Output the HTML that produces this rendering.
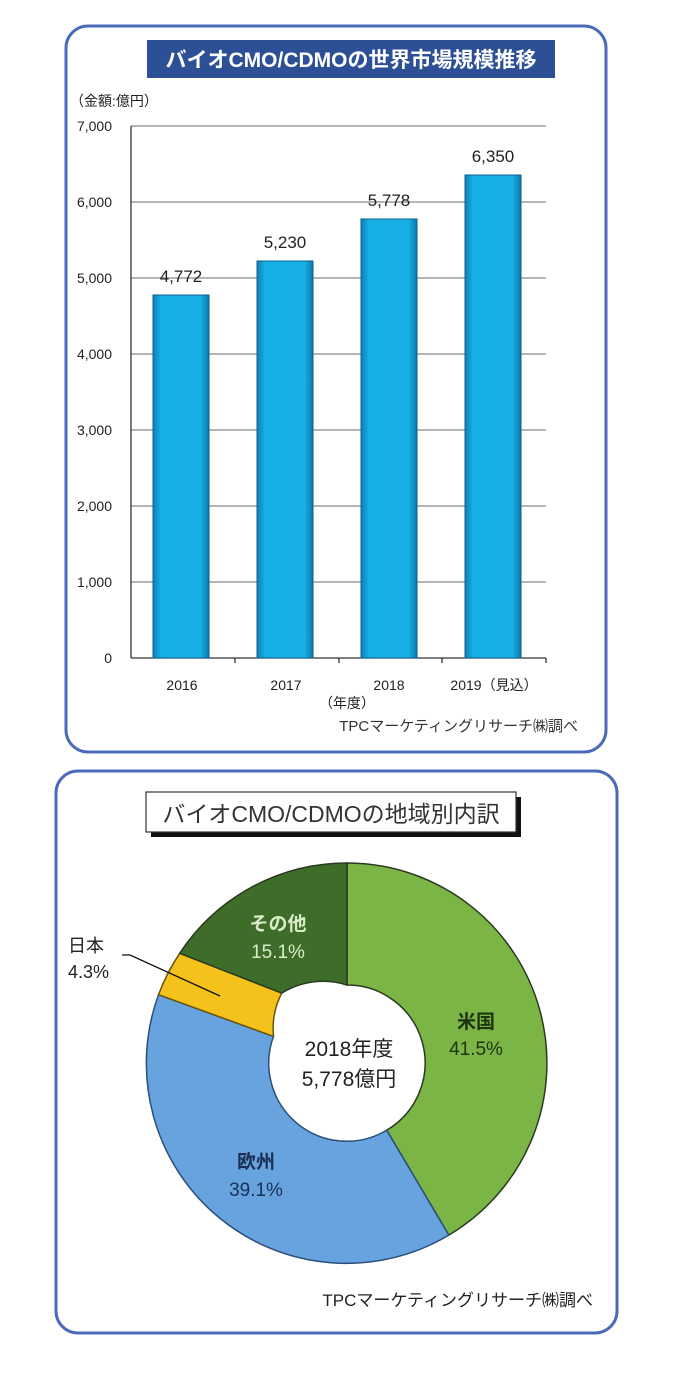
<!DOCTYPE html>
<html><head><meta charset="utf-8"><style>
html,body{margin:0;padding:0;background:#fff;}
svg{display:block;font-family:"Liberation Sans","Noto Sans CJK JP",sans-serif;}
</style></head><body>
<svg width="698" height="1376" viewBox="0 0 698 1376" xmlns="http://www.w3.org/2000/svg">
<defs>
<linearGradient id="bar" x1="0" x2="1" y1="0" y2="0">
<stop offset="0" stop-color="#0c7fb8"/><stop offset="0.15" stop-color="#17b0e6"/><stop offset="0.85" stop-color="#17b0e6"/><stop offset="1" stop-color="#0c78ae"/>
</linearGradient>
</defs>
<rect x="66" y="26" width="540" height="726" rx="22" fill="#fff" stroke="#4a6cb8" stroke-width="3"/>
<rect x="56" y="771" width="561" height="562" rx="22" fill="#fff" stroke="#4a6cb8" stroke-width="3"/>
<rect x="147" y="40" width="408" height="38" fill="#2c4f96"/>
<text x="351" y="67" text-anchor="middle" font-size="21" font-weight="bold" fill="#fff">バイオCMO/CDMOの世界市場規模推移</text>
<text x="70" y="106" font-size="14" fill="#222">（金額:億円）</text>
<g stroke="#888" stroke-width="1.2">
<line x1="131" y1="126" x2="546" y2="126"/><line x1="131" y1="202" x2="546" y2="202"/><line x1="131" y1="278" x2="546" y2="278"/><line x1="131" y1="354" x2="546" y2="354"/><line x1="131" y1="430" x2="546" y2="430"/><line x1="131" y1="506" x2="546" y2="506"/><line x1="131" y1="582" x2="546" y2="582"/>
</g>
<g stroke="#333" stroke-width="1.3"><line x1="131" y1="126" x2="131" y2="658"/><line x1="131" y1="658" x2="546" y2="658"/>
<line x1="235" y1="658" x2="235" y2="663"/><line x1="339" y1="658" x2="339" y2="663"/><line x1="442" y1="658" x2="442" y2="663"/><line x1="546" y1="658" x2="546" y2="663"/></g>
<g font-size="14" fill="#222" text-anchor="end">
<text x="112" y="131">7,000</text><text x="112" y="207">6,000</text><text x="112" y="283">5,000</text><text x="112" y="359">4,000</text><text x="112" y="435">3,000</text><text x="112" y="511">2,000</text><text x="112" y="587">1,000</text><text x="112" y="663">0</text>
</g>
<g fill="url(#bar)" stroke="#0a5f8c" stroke-width="1">
<rect x="153" y="295" width="56" height="363"/>
<rect x="257" y="261" width="56" height="397"/>
<rect x="361" y="219" width="56" height="439"/>
<rect x="465" y="175" width="56" height="483"/>
</g>
<g font-size="17" fill="#222" text-anchor="middle">
<text x="181" y="282">4,772</text><text x="285" y="248">5,230</text><text x="389" y="206">5,778</text><text x="493" y="162">6,350</text>
</g>
<g font-size="14" fill="#222" text-anchor="middle">
<text x="182" y="690">2016</text><text x="286" y="690">2017</text><text x="389" y="690">2018</text><text x="494" y="690">2019（見込）</text>
<text x="347" y="708">（年度）</text>
</g>
<text x="578" y="731" text-anchor="end" font-size="15" fill="#333">TPCマーケティングリサーチ㈱調べ</text>
<rect x="151" y="797" width="370" height="40" fill="#111"/>
<rect x="146" y="792" width="370" height="40" fill="#fff" stroke="#333" stroke-width="1.2"/>
<text x="331" y="822" text-anchor="middle" font-size="23" fill="#333">バイオCMO/CDMOの地域別内訳</text>
<g stroke="#2a3a20" stroke-width="1.5">
<path d="M347 863 A200 200 0 0 1 448.8 1235.1 L386.7 1130.2 A78 78 0 0 0 347 985 Z" fill="#7ab545"/>
<path d="M448.8 1235.1 A200 200 0 0 1 158.5 994.7 L273.5 1036.4 A78 78 0 0 0 386.7 1130.2 Z" fill="#66a3df" stroke="#2b4f7a"/>
<path d="M158.5 994.7 A200 200 0 0 1 179.7 953.3 L281.7 993.1 A78 78 0 0 0 273.5 1036.4 Z" fill="#f4c21b" stroke="#6b5410"/>
<path d="M179.7 953.3 A200 200 0 0 1 347 863 L347 985 A78 78 0 0 0 281.7 993.1 Z" fill="#3e6d2a"/>
</g>
<g font-size="19" text-anchor="middle" font-weight="bold">
<text x="278" y="930" fill="#d8ecc8">その他</text><text x="278" y="958" fill="#d8ecc8" font-weight="normal">15.1%</text>
<text x="476" y="1028" fill="#1e3410">米国</text><text x="476" y="1055" fill="#1e3410" font-weight="normal">41.5%</text>
<text x="256" y="1168" fill="#1d2f55">欧州</text><text x="256" y="1196" fill="#1d2f55" font-weight="normal">39.1%</text>
</g>
<g font-size="21" text-anchor="middle">
<text x="349" y="1056" fill="#222">2018年度</text><text x="349" y="1086" fill="#222">5,778億円</text>
</g>
<text x="68" y="952" font-size="18" fill="#222">日本</text>
<text x="68" y="978" font-size="18" fill="#222">4.3%</text>
<polyline points="122,955 130,955 220,996" fill="none" stroke="#111" stroke-width="1.3"/>
<text x="593" y="1306" text-anchor="end" font-size="17" fill="#222">TPCマーケティングリサーチ㈱調べ</text>
</svg>
</body></html>
